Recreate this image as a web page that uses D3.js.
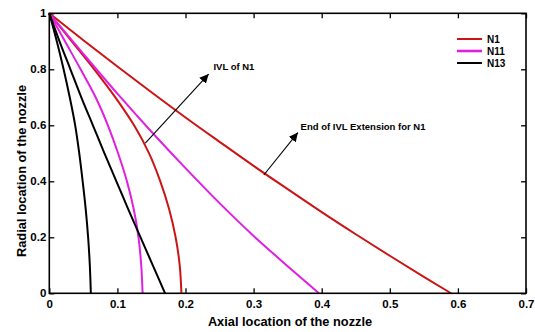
<!DOCTYPE html>
<html lang="en">
<head>
<meta charset="UTF-8">
<title>Radial vs axial location</title>
<script src="https://d3js.org/d3.v7.min.js"></script>
<style>
  body { margin: 0; background: #fff; }
  text { font-family: "Liberation Sans", Arial, sans-serif; font-weight: bold; }
</style>
</head>
<body>
<div id="chart"></div>
<script>
// values
var xTicks = [0, 0.1, 0.2, 0.3, 0.4, 0.5, 0.6, 0.7];
var xTickLabels = ["0", "0.1", "0.2", "0.3", "0.4", "0.5", "0.6", "0.7"];
var yTicks = [0, 0.2, 0.4, 0.6, 0.8, 1];
var yTickLabels = ["0", "0.2", "0.4", "0.6", "0.8", "1"];

// radial stations used by the IVL curves
var radialSteps = [1, 0.9, 0.8, 0.7, 0.6, 0.5, 0.4, 0.3, 0.2, 0.1, 0];

// N1
var n1IvlAxial  = [0, 0.033, 0.066, 0.097, 0.1245, 0.1465, 0.163, 0.176, 0.1855, 0.1915, 0.194];
var n1EndAxial  = [0, 0.05, 0.1, 0.15, 0.2, 0.25, 0.3, 0.35, 0.4, 0.45, 0.5, 0.55, 0.59];
var n1EndRadial = [1, 0.904, 0.81, 0.718, 0.628, 0.541, 0.455, 0.372, 0.29, 0.211, 0.134, 0.059, 0];
// N11
var n11IvlAxial  = [0, 0.023, 0.046, 0.068, 0.086, 0.101, 0.114, 0.124, 0.131, 0.135, 0.137];
var n11EndAxial  = [0, 0.05, 0.1, 0.15, 0.2, 0.25, 0.3, 0.35, 0.396];
var n11EndRadial = [1, 0.855, 0.713, 0.577, 0.447, 0.322, 0.205, 0.097, 0];
// N13
var n13IvlAxial  = [0, 0.011, 0.021, 0.03, 0.038, 0.044, 0.049, 0.0535, 0.057, 0.0595, 0.061];
var n13EndAxial  = [0, 0.015, 0.031, 0.047, 0.064, 0.081, 0.0985, 0.116, 0.134, 0.152, 0.17];

var legendNames = ["N1", "N11", "N13"];
var colors = { N1: "#cc1414", N11: "#e020e0", N13: "#000000" };

var width = 535, height = 332;
var margin = { top: 13.3, right: 9, bottom: 38.7, left: 49.3 };

var svg = d3.select("#chart").append("svg")
    .attr("width", width)
    .attr("height", height);

var x = d3.scaleLinear().domain([0, 0.7]).range([margin.left, width - margin.right]);
var y = d3.scaleLinear().domain([0, 1]).range([height - margin.bottom, margin.top]);

function zip(a, r) {
    return a.map(function(v, i) { return [v, r[i]]; });
}

var series = [
    { name: "N1", pts: zip(n1IvlAxial, radialSteps) },
    { name: "N1", pts: zip(n1EndAxial, n1EndRadial) },
    { name: "N11", pts: zip(n11IvlAxial, radialSteps) },
    { name: "N11", pts: zip(n11EndAxial, n11EndRadial) },
    { name: "N13", pts: zip(n13IvlAxial, radialSteps) },
    { name: "N13", pts: zip(n13EndAxial, radialSteps) }
];

var line = d3.line()
    .x(function(d) { return x(d[0]); })
    .y(function(d) { return y(d[1]); })
    .curve(d3.curveMonotoneY);

svg.selectAll("path.curve")
    .data(series)
    .enter().append("path")
    .attr("class", "curve")
    .attr("fill", "none")
    .attr("stroke", function(d) { return colors[d.name]; })
    .attr("stroke-width", 2)
    .attr("d", function(d) { return line(d.pts); });

// axes, ticks pointing inward
var fmtX = function(d, i) { return xTickLabels[i]; };
var fmtY = function(d, i) { return yTickLabels[i]; };

svg.append("g")
    .attr("transform", "translate(0," + y(0) + ")")
    .call(d3.axisBottom(x).tickValues(xTicks).tickFormat(fmtX).tickSizeInner(-5).tickSizeOuter(0).tickPadding(7));
svg.append("g")
    .attr("transform", "translate(" + x(0) + ",0)")
    .call(d3.axisLeft(y).tickValues(yTicks).tickFormat(fmtY).tickSizeInner(-5).tickSizeOuter(0).tickPadding(3));
svg.append("g")
    .attr("transform", "translate(0," + y(1) + ")")
    .call(d3.axisTop(x).tickValues(xTicks).tickFormat("").tickSizeInner(-5).tickSizeOuter(0));
svg.append("g")
    .attr("transform", "translate(" + x(0.7) + ",0)")
    .call(d3.axisRight(y).tickValues(yTicks).tickFormat("").tickSizeInner(-5).tickSizeOuter(0));

svg.selectAll(".domain").remove();
svg.selectAll(".tick line").attr("stroke", "#000").attr("stroke-width", 1.3);
svg.selectAll(".tick text")
    .attr("fill", "#000")
    .style("font-size", "11.5px")
    .style("font-family", "'Liberation Sans', Arial, sans-serif")
    .style("font-weight", "bold");

svg.append("rect")
    .attr("x", x(0)).attr("y", y(1))
    .attr("width", x(0.7) - x(0)).attr("height", y(0) - y(1))
    .attr("fill", "none").attr("stroke", "#000").attr("stroke-width", 1.6);

// axis titles
svg.append("text")
    .attr("x", 290).attr("y", 326)
    .attr("text-anchor", "middle")
    .style("font-size", "12.8px")
    .text("Axial location of the nozzle");

svg.append("text")
    .attr("transform", "translate(26,171) rotate(-90)")
    .attr("text-anchor", "middle")
    .style("font-size", "12.8px")
    .text("Radial location of the nozzle");

// annotations
svg.append("defs").append("marker")
    .attr("id", "arrow")
    .attr("viewBox", "0 0 10 10")
    .attr("refX", 10).attr("refY", 5)
    .attr("markerWidth", 9).attr("markerHeight", 9)
    .attr("markerUnits", "userSpaceOnUse")
    .attr("orient", "auto")
    .append("path")
    .attr("d", "M0,0 L10,5 L0,10 Z")
    .attr("fill", "#000");

var notes = [
    { from: [0.141, 0.536], to: [0.234, 0.783], label: "IVL of N1", at: [0.241, 0.797] },
    { from: [0.315, 0.4225], to: [0.365, 0.574], label: "End of IVL Extension for N1", at: [0.369, 0.583] }
];

notes.forEach(function(n) {
    svg.append("line")
        .attr("x1", x(n.from[0])).attr("y1", y(n.from[1]))
        .attr("x2", x(n.to[0])).attr("y2", y(n.to[1]))
        .attr("stroke", "#000").attr("stroke-width", 1.1)
        .attr("marker-end", "url(#arrow)");
    svg.append("text")
        .attr("x", x(n.at[0])).attr("y", y(n.at[1]))
        .style("font-size", "9.5px")
        .text(n.label);
});

// legend
var legend = svg.append("g").attr("transform", "translate(457,39)");
legendNames.forEach(function(name, i) {
    legend.append("line")
        .attr("x1", 0).attr("x2", 25)
        .attr("y1", i * 12).attr("y2", i * 12)
        .attr("stroke", colors[name])
        .attr("stroke-width", name === "N11" ? 2.6 : 2);
    legend.append("text")
        .attr("x", 30).attr("y", i * 12 + 4)
        .style("font-size", "10px")
        .text(name);
});
</script>
</body>
</html>
